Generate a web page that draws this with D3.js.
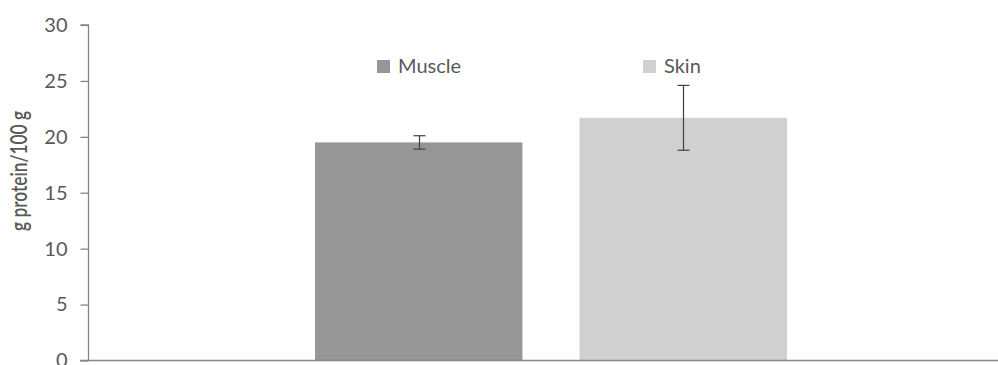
<!DOCTYPE html>
<html><head><meta charset="utf-8">
<script src="https://cdn.jsdelivr.net/npm/d3@7"></script>
<style>body{margin:0;background:#fff}svg{display:block}text{font-family:Lato,"Open Sans",sans-serif;fill:#595959}</style>
</head><body><svg id="c" width="998" height="365"></svg>
<script>
const categories = ["Muscle", "Skin"];
const values = [19.5, 21.7];
const errors = [0.6, 2.9];
const colors = ["#969696", "#d0d0d0"];
const yTicks = [0, 5, 10, 15, 20, 25, 30];
const yLabel = "g protein/100 g";

const svg = d3.select("#c");
const axisColor = "#868686";
const y = d3.scaleLinear().domain([0, 30]).range([360.5, 25]);
const x = d3.scaleBand().domain(categories).range([315, 787]).paddingInner(0.216).paddingOuter(0);

// bars
svg.selectAll("rect.bar").data(categories).enter().append("rect")
  .attr("x", d => x(d)).attr("width", x.bandwidth())
  .attr("y", (d, i) => y(values[i])).attr("height", (d, i) => y(0) - y(values[i]))
  .attr("fill", (d, i) => colors[i]);

// error bars
const eb = svg.append("g").attr("stroke", "#404040").attr("stroke-width", 1.2);
categories.forEach((c, i) => {
  const cx = Math.round(x(c) + x.bandwidth() / 2) + 0.5;
  eb.append("line").attr("x1", cx).attr("x2", cx).attr("y1", y(values[i] + errors[i])).attr("y2", y(values[i] - errors[i]));
  [values[i] + errors[i], values[i] - errors[i]].forEach(v => {
    eb.append("line").attr("x1", cx - 6).attr("x2", cx + 6).attr("y1", y(v)).attr("y2", y(v));
  });
});

// y axis
const ax = svg.append("g").attr("transform", "translate(88.5,0)")
  .call(d3.axisLeft(y).tickValues(yTicks).tickSize(8).tickPadding(13));
ax.selectAll("path,line").attr("stroke", axisColor).attr("stroke-width", 1.3);
ax.select(".domain").attr("d", `M-8,${y(30)}H0V${y(0)}`);
ax.selectAll("text").attr("font-size", 20).attr("font-family", "Lato").attr("fill", "#595959");

// baseline
svg.append("line").attr("x1", 80).attr("x2", 998).attr("y1", y(0)).attr("y2", y(0))
  .attr("stroke", axisColor).attr("stroke-width", 1.5);

// y label
svg.append("text").attr("transform", `translate(27,171) rotate(-90)`)
  .attr("text-anchor", "middle").attr("font-size", 22).attr("font-weight", 600)
  .attr("textLength", 120).attr("lengthAdjust", "spacingAndGlyphs").text(yLabel);

// legend
const legX = [377, 643];
categories.forEach((c, i) => {
  svg.append("rect").attr("x", legX[i]).attr("y", 60).attr("width", 13).attr("height", 13).attr("fill", colors[i]);
  svg.append("text").attr("x", legX[i] + 21).attr("y", 73).attr("font-size", 20).text(c);
});
</script></body></html>
